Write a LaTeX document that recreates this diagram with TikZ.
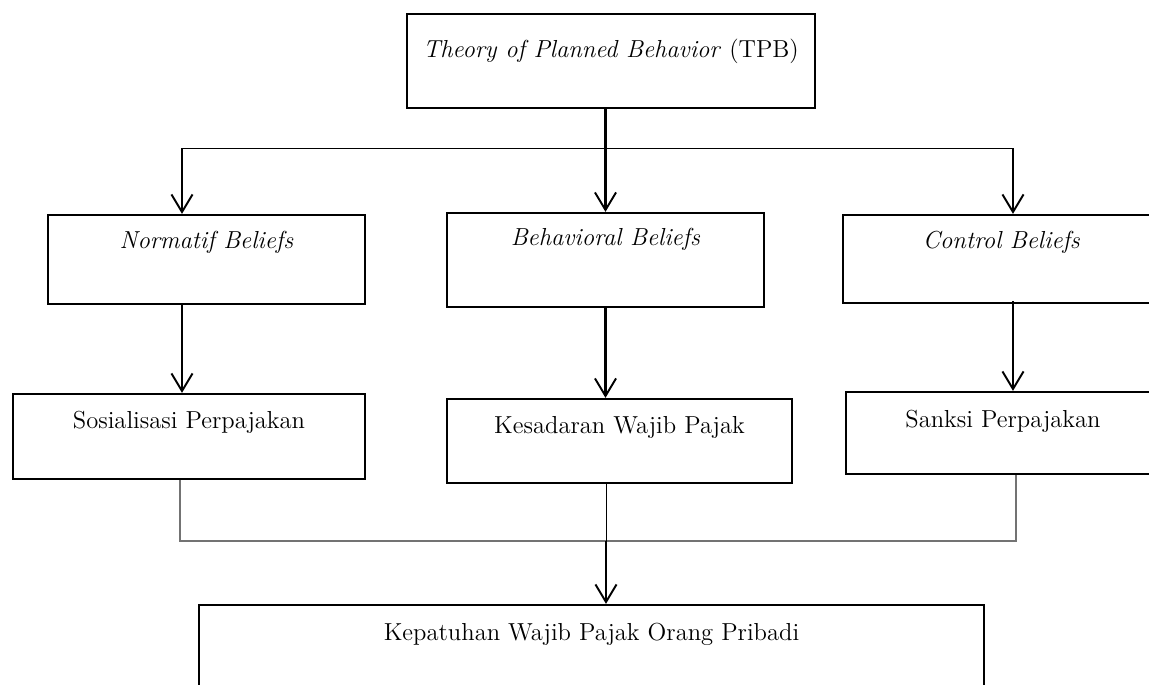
\documentclass[tikz,border=0pt]{standalone}
\usepackage{amsmath,amssymb}
\usepackage{tikz}
\usetikzlibrary{arrows.meta}

\begin{document}
\begin{tikzpicture}[x=0.02cm,y=-0.02cm,
  box/.style={draw,line width=1.3pt,inner sep=0pt,font=\fontsize{14}{17}\selectfont},
  arr/.style={line width=1.25pt,-{Straight Barb[length=10pt,width=12pt,line width=1.1pt]}},
  thinline/.style={line width=0.5pt},
  joinline/.style={line width=0.7pt,black!55}]
\clip (0,0) rectangle (1149,684);
% boxes
\node[box,minimum width=8.16cm,text height=0.86cm,text depth=1.02cm] (tpb) at (611,61) {\textit{Theory of Planned Behavior} (TPB)};
\node[box,minimum width=6.34cm,text height=0.66cm,text depth=1.12cm] (norm) at (206.5,259.5) {\textit{Normatif Beliefs}};
\node[box,minimum width=6.34cm,text height=0.64cm,text depth=1.24cm] (behav) at (605.5,260) {\textit{Behavioral Beliefs}};
\node[box,minimum width=6.34cm,text height=0.66cm,text depth=1.10cm] (ctrl) at (1001.5,259) {\textit{Control Beliefs}};
\node[box,minimum width=7.04cm,text height=0.68cm,text depth=1.02cm] (sos) at (189,436.5) {Sosialisasi Perpajakan};
\node[box,minimum width=6.90cm,text height=0.68cm,text depth=1.00cm] (kes) at (619.5,441) {Kesadaran Wajib Pajak};
\node[box,minimum width=6.28cm,text height=0.70cm,text depth=0.94cm] (sank) at (1003,433) {Sanksi Perpajakan};
\node[box,minimum width=15.70cm,text height=0.70cm,text depth=1.30cm] (kep) at (591.5,655) {Kepatuhan Wajib Pajak Orang Pribadi};
% branch points
\coordinate (bl) at (182,148);
\coordinate (br) at (1013,148);
\coordinate (jl) at (180,541);
\coordinate (jr) at (1016,541);
\coordinate (jm) at (606,541);
% top level
\draw[thinline] (bl) -- (br);
\draw[arr] (behav.north |- tpb.south) -- (behav.north);
\draw[arr] (bl) -- (bl |- norm.north);
\draw[arr] (br) -- (br |- ctrl.north);
% second level
\draw[arr] (bl |- norm.south) -- (bl |- sos.north);
\draw[arr] (behav.south) -- (behav.south |- kes.north);
\draw[arr] ([yshift=0.06cm]br |- ctrl.south) -- (br |- sank.north);
% joining lines
\draw[joinline] (jl |- sos.south) -- (jl) -- (jr) -- (jr |- sank.south);
\draw[thinline] (jm |- kes.south) -- (jm);
\draw[arr] (jm) -- (jm |- kep.north);
\end{tikzpicture}
\end{document}
